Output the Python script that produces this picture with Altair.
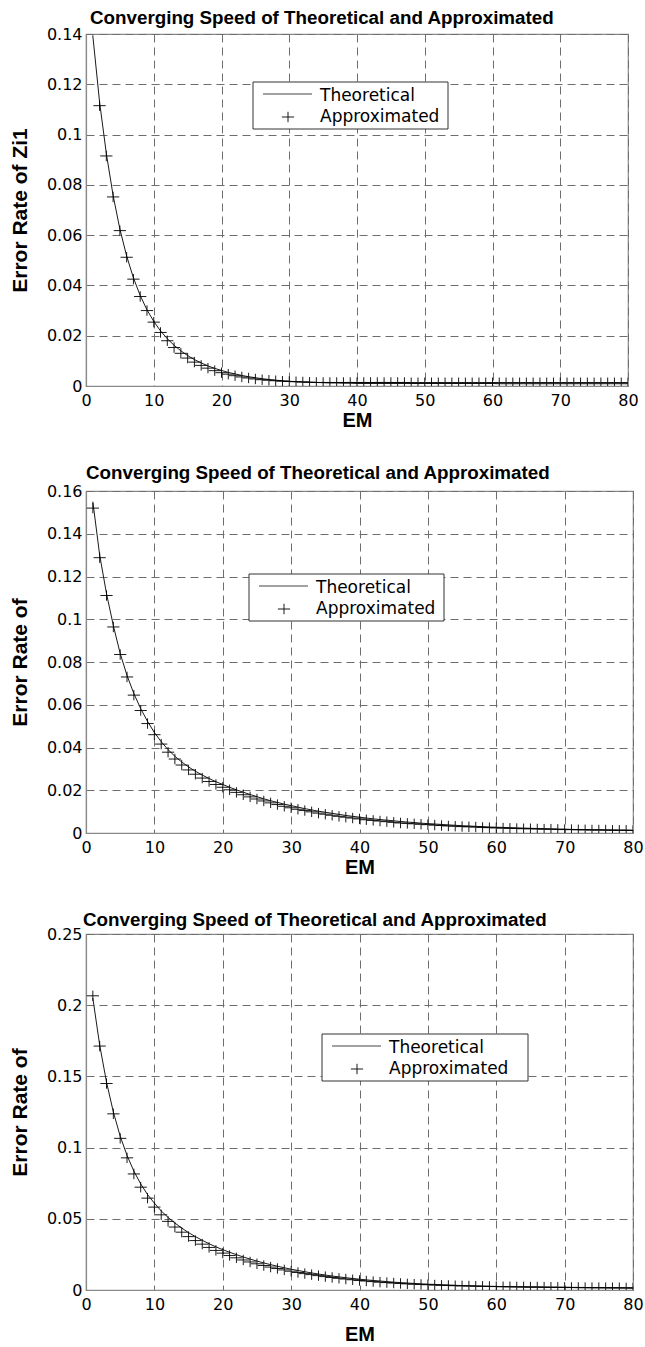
import altair as alt
import pandas as pd

# ---------------- data ----------------
X_THEO = list(range(1, 81))

THEO_1 = [0.1395, 0.1130, 0.0925, 0.0758, 0.0624, 0.0517, 0.0430, 0.0360, 0.0303, 0.0257,
          0.0219, 0.0188, 0.0162, 0.0140, 0.0121, 0.0105, 0.0092, 0.0080, 0.0070, 0.0062,
          0.0054, 0.0048, 0.0042, 0.0037, 0.0033, 0.0029, 0.0026, 0.0023, 0.0021, 0.0019,
          0.0017, 0.0016, 0.0015, 0.0014, 0.0013, 0.0012, 0.0012, 0.0011, 0.0011, 0.0010,
          0.0010, 0.0010, 0.0010, 0.0010, 0.0010, 0.0010, 0.0010, 0.0010, 0.0010, 0.0010,
          0.0010, 0.0010, 0.0010, 0.0010, 0.0010, 0.0010, 0.0010, 0.0010, 0.0010, 0.0010,
          0.0009, 0.0009, 0.0009, 0.0009, 0.0009, 0.0009, 0.0009, 0.0009, 0.0009, 0.0009,
          0.0009, 0.0009, 0.0009, 0.0009, 0.0009, 0.0009, 0.0009, 0.0009, 0.0009, 0.0009]
X_APPR_1 = list(range(2, 81))
APPR_1 = [0.1115, 0.0915, 0.0752, 0.0618, 0.0512, 0.0425, 0.0356, 0.0300, 0.0254,
          0.0213, 0.0180, 0.0153, 0.0130, 0.0111, 0.0095, 0.0082, 0.0071, 0.0061, 0.0053,
          0.0047, 0.0041, 0.0036, 0.0032, 0.0028, 0.0025, 0.0023, 0.0021, 0.0019, 0.0018,
          0.0017, 0.0016, 0.0015, 0.0014, 0.0014, 0.0014, 0.0014, 0.0014, 0.0014, 0.0014,
          0.0014, 0.0014, 0.0014, 0.0014, 0.0014, 0.0014, 0.0014, 0.0013, 0.0013, 0.0013,
          0.0013, 0.0013, 0.0013, 0.0013, 0.0013, 0.0013, 0.0013, 0.0013, 0.0013, 0.0013,
          0.0013, 0.0013, 0.0013, 0.0013, 0.0013, 0.0013, 0.0013, 0.0013, 0.0013, 0.0013,
          0.0013, 0.0013, 0.0013, 0.0013, 0.0013, 0.0013, 0.0013, 0.0013, 0.0013, 0.0013]

THEO_2 = [0.1550, 0.1300, 0.1120, 0.0970, 0.0840, 0.0737, 0.0652, 0.0582, 0.0522, 0.0470,
          0.0427, 0.0390, 0.0359, 0.0332, 0.0309, 0.0289, 0.0271, 0.0255, 0.0240, 0.0227,
          0.0214, 0.0202, 0.0191, 0.0180, 0.0170, 0.0160, 0.0151, 0.0143, 0.0135, 0.0128,
          0.0121, 0.0114, 0.0108, 0.0102, 0.0097, 0.0092, 0.0087, 0.0082, 0.0078, 0.0074,
          0.0070, 0.0066, 0.0063, 0.0060, 0.0057, 0.0054, 0.0051, 0.0049, 0.0046, 0.0044,
          0.0042, 0.0040, 0.0038, 0.0036, 0.0034, 0.0033, 0.0031, 0.0030, 0.0028, 0.0027,
          0.0026, 0.0025, 0.0024, 0.0023, 0.0022, 0.0021, 0.0020, 0.0019, 0.0018, 0.0018,
          0.0017, 0.0016, 0.0016, 0.0015, 0.0015, 0.0014, 0.0014, 0.0013, 0.0013, 0.0012]
X_APPR_2 = list(range(1, 81))
APPR_2 = [0.1520, 0.1288, 0.1111, 0.0964, 0.0835, 0.0730, 0.0645, 0.0573, 0.0512, 0.0460,
          0.0416, 0.0378, 0.0346, 0.0318, 0.0295, 0.0275, 0.0257, 0.0241, 0.0227, 0.0214,
          0.0202, 0.0190, 0.0179, 0.0169, 0.0159, 0.0150, 0.0141, 0.0133, 0.0125, 0.0118,
          0.0111, 0.0105, 0.0099, 0.0093, 0.0088, 0.0083, 0.0078, 0.0074, 0.0070, 0.0066,
          0.0062, 0.0059, 0.0056, 0.0053, 0.0050, 0.0047, 0.0045, 0.0043, 0.0041, 0.0039,
          0.0037, 0.0035, 0.0033, 0.0032, 0.0030, 0.0029, 0.0028, 0.0026, 0.0025, 0.0024,
          0.0023, 0.0022, 0.0021, 0.0020, 0.0020, 0.0019, 0.0018, 0.0018, 0.0017, 0.0016,
          0.0016, 0.0015, 0.0015, 0.0014, 0.0014, 0.0014, 0.0013, 0.0013, 0.0013, 0.0012]

THEO_3 = [0.2050, 0.1720, 0.1460, 0.1250, 0.1080, 0.0945, 0.0835, 0.0745, 0.0670, 0.0610,
          0.0555, 0.0510, 0.0470, 0.0435, 0.0403, 0.0375, 0.0349, 0.0325, 0.0303, 0.0283,
          0.0265, 0.0248, 0.0232, 0.0217, 0.0203, 0.0190, 0.0178, 0.0167, 0.0156, 0.0146,
          0.0137, 0.0128, 0.0120, 0.0112, 0.0105, 0.0098, 0.0092, 0.0086, 0.0081, 0.0076,
          0.0071, 0.0067, 0.0063, 0.0059, 0.0055, 0.0052, 0.0049, 0.0046, 0.0043, 0.0041,
          0.0039, 0.0037, 0.0035, 0.0033, 0.0031, 0.0030, 0.0028, 0.0027, 0.0026, 0.0025,
          0.0024, 0.0023, 0.0022, 0.0021, 0.0020, 0.0020, 0.0019, 0.0018, 0.0018, 0.0017,
          0.0017, 0.0016, 0.0016, 0.0015, 0.0015, 0.0015, 0.0014, 0.0014, 0.0014, 0.0013]
X_APPR_3 = list(range(1, 81))
APPR_3 = [0.2066, 0.1713, 0.1450, 0.1237, 0.1065, 0.0928, 0.0815, 0.0722, 0.0645, 0.0582,
          0.0528, 0.0482, 0.0442, 0.0406, 0.0375, 0.0347, 0.0322, 0.0299, 0.0278, 0.0259,
          0.0242, 0.0226, 0.0211, 0.0197, 0.0184, 0.0172, 0.0161, 0.0151, 0.0141, 0.0132,
          0.0123, 0.0115, 0.0108, 0.0101, 0.0094, 0.0088, 0.0082, 0.0077, 0.0072, 0.0067,
          0.0063, 0.0059, 0.0055, 0.0052, 0.0049, 0.0046, 0.0043, 0.0041, 0.0039, 0.0037,
          0.0035, 0.0033, 0.0032, 0.0030, 0.0029, 0.0028, 0.0027, 0.0026, 0.0025, 0.0024,
          0.0023, 0.0023, 0.0022, 0.0022, 0.0021, 0.0021, 0.0020, 0.0020, 0.0019, 0.0019,
          0.0018, 0.0018, 0.0017, 0.0017, 0.0017, 0.0016, 0.0016, 0.0016, 0.0015, 0.0015]

X_TICKS = [0, 10, 20, 30, 40, 50, 60, 70, 80]
Y_TICKS_1 = [0, 0.02, 0.04, 0.06, 0.08, 0.1, 0.12, 0.14]
Y_TICKS_2 = [0, 0.02, 0.04, 0.06, 0.08, 0.1, 0.12, 0.14, 0.16]
Y_TICKS_3 = [0, 0.05, 0.1, 0.15, 0.2, 0.25]

TITLE = "Converging Speed of Theoretical and Approximated"
X_TITLE = "EM"
Y_TITLES = ["Error Rate of Zi1", "Error Rate of", "Error Rate of"]
LEGEND_LABELS = ["Theoretical", "Approximated"]

# ---------------- styling ----------------
PLUS = "M-1,0L1,0M0,-0.85L0,0.85"
GRID = "#6e6e6e"
FRAME = "#8a8a8a"
TICK_FONT = "DejaVu Sans"
BOLD_FONT = "Liberation Sans"


def panel(theo, xa, appr, ymax, yticks, ytitle, w, h, title_dx, title_off,
          leg_x, leg_y, leg_w, xt_pad):
    xs = alt.Scale(domain=[0, 80], nice=False, zero=False)
    ys = alt.Scale(domain=[0, ymax], nice=False, zero=False)
    xaxis = alt.Axis(values=X_TICKS, grid=True, gridDash=[8, 5], gridColor=GRID,
                     gridWidth=1, gridOpacity=1, ticks=False, domainColor=FRAME,
                     domainWidth=1.2, labelFont=TICK_FONT, labelFontSize=16,
                     labelColor="black", labelPadding=6, labelFlush=False,
                     title=X_TITLE, titleFont=BOLD_FONT, titleFontSize=20,
                     titleFontWeight="bold", titleColor="black", titlePadding=xt_pad)
    yaxis = alt.Axis(values=yticks, format="~g", grid=True, gridDash=[8, 5],
                     gridColor=GRID, gridWidth=1, gridOpacity=1, ticks=False,
                     domainColor=FRAME, domainWidth=1.2, labelFont=TICK_FONT,
                     labelFontSize=16, labelColor="black", labelPadding=4,
                     labelFlush=False, title=ytitle, titleFont=BOLD_FONT,
                     titleFontSize=21, titleFontWeight="bold", titleColor="black",
                     titlePadding=16)
    df_l = pd.DataFrame({"x": X_THEO, "y": theo})
    df_p = pd.DataFrame({"x": xa, "y": appr})
    line = alt.Chart(df_l).mark_line(color="#1a1a1a", strokeWidth=1, clip=True).encode(
        x=alt.X("x:Q", scale=xs, axis=xaxis),
        y=alt.Y("y:Q", scale=ys, axis=yaxis),
    )
    pts = alt.Chart(df_p).mark_point(shape=PLUS, size=150, filled=False, color="black",
                                     strokeWidth=0.9, opacity=1, clip=True).encode(
        x=alt.X("x:Q", scale=xs),
        y=alt.Y("y:Q", scale=ys),
    )
    one = pd.DataFrame({"a": [0]})
    box = alt.Chart(one).mark_rect(fill="white", stroke="#333333", strokeWidth=1).encode(
        x=alt.value(leg_x), x2=alt.value(leg_x + leg_w),
        y=alt.value(leg_y), y2=alt.value(leg_y + 47),
    )
    sample = alt.Chart(one).mark_rule(color="#444444", strokeWidth=1).encode(
        x=alt.value(leg_x + 10), x2=alt.value(leg_x + 59), y=alt.value(leg_y + 12),
    )
    sym = alt.Chart(one).mark_point(shape=PLUS, size=150, filled=False, color="black",
                                    strokeWidth=0.9, opacity=1).encode(
        x=alt.value(leg_x + 35), y=alt.value(leg_y + 35),
    )
    t1 = alt.Chart(pd.DataFrame({"t": [LEGEND_LABELS[0]]})).mark_text(
        align="left", baseline="middle", font=TICK_FONT, fontSize=17, color="black"
    ).encode(x=alt.value(leg_x + 67), y=alt.value(leg_y + 14), text="t:N")
    t2 = alt.Chart(pd.DataFrame({"t": [LEGEND_LABELS[1]]})).mark_text(
        align="left", baseline="middle", font=TICK_FONT, fontSize=17, color="black"
    ).encode(x=alt.value(leg_x + 67), y=alt.value(leg_y + 35), text="t:N")
    return alt.layer(line, pts, box, sample, sym, t1, t2).properties(
        width=w, height=h,
        title=alt.TitleParams(TITLE, anchor="start", frame="group", font=BOLD_FONT,
                              fontSize=18.8, fontWeight="bold", color="black",
                              baseline="alphabetic", offset=title_off, dx=title_dx),
    )


p1 = panel(THEO_1, X_APPR_1, APPR_1, 0.14, Y_TICKS_1, Y_TITLES[0], 542, 352, 4, -17,
           167, 48, 195, 2)
p2 = panel(THEO_2, X_APPR_2, APPR_2, 0.16, Y_TICKS_2, Y_TITLES[1], 547, 342, 0, -15,
           163, 83, 195, 2)
p3 = panel(THEO_3, X_APPR_3, APPR_3, 0.25, Y_TICKS_3, Y_TITLES[2], 547, 356, -3, -19,
           236, 100, 206, 12)

chart = alt.vconcat(p1, p2, p3, spacing=32).properties(
    padding={"left": 8, "top": 8, "right": 0, "bottom": 0},
    background="white",
).configure_view(stroke=FRAME, strokeWidth=1.2)

chart.save("out.html", embed_options={"renderer": "svg", "actions": False})
